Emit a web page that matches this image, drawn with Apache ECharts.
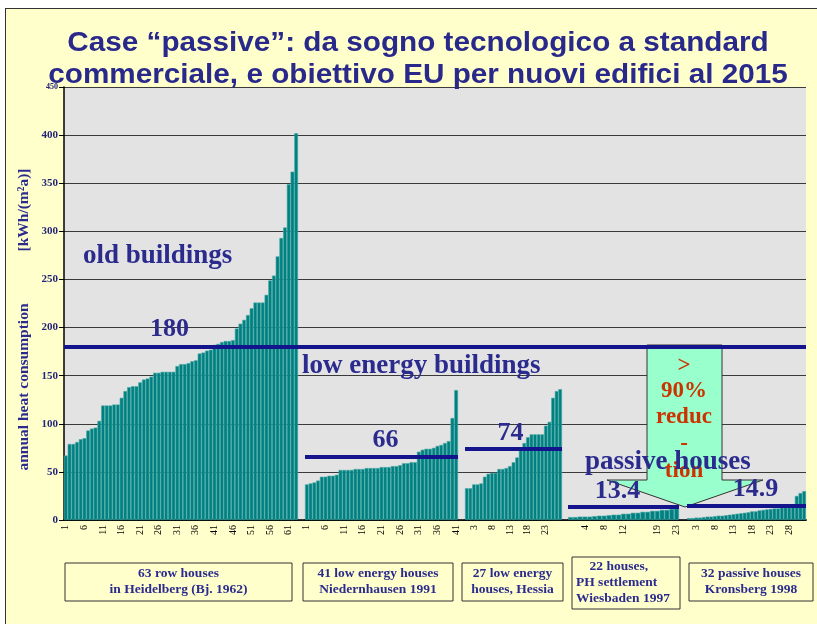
<!DOCTYPE html>
<html>
<head>
<meta charset="utf-8">
<script src="https://cdn.jsdelivr.net/npm/echarts@6.0.0/dist/echarts.min.js"></script>
<style>
  body { margin: 0; background: #fff; }
  #slide { position: absolute; left: 5px; top: 8px; width: 830px; height: 640px; background: #FFFFCC; border: 1px solid #333; }
  #main { position: absolute; left: 0; top: 0; width: 817px; height: 624px; }
</style>
</head>
<body>
<div id="slide"></div>
<div id="main"></div>
<script>
// heat consumption per house, kWh/(m2a), sorted ascending in each estate
const oldHouses = [67, 79, 79, 81, 84, 85, 93, 95, 96, 103, 119, 119, 119, 120, 120, 127, 134, 138, 139, 139,
  143, 146, 147, 149, 153, 153, 154, 154, 154, 154, 160, 162, 162, 163, 165, 166, 173, 174, 176, 177,
  182, 183, 185, 186, 186, 187, 199, 204, 208, 213, 220, 226, 226, 226, 234, 249, 254, 274, 293, 304,
  349, 362, 402];
const lowNiedernhausen = [37, 38, 39, 41, 45, 45, 46, 46, 47, 52, 52, 52, 52, 53, 53, 53, 54, 54, 54, 54,
  55, 55, 55, 56, 56, 57, 59, 59, 60, 60, 71, 73, 74, 74, 75, 77, 78, 80, 82, 106, 135];
const lowHessia = [33, 33, 37, 37, 38, 45, 48, 49, 49, 53, 53, 54, 56, 60, 65, 73, 80, 86, 89, 89,
  89, 89, 98, 102, 127, 134, 136];
const passiveWiesbaden = [3, 3, 3.5, 3.5, 3.5, 4, 4.5, 4.5, 5, 5.5, 5.5, 6.5, 6.5, 7.5, 7.5, 8.5, 8.5, 9.5, 9.5, 10.5,
  10.5, 11.5, 12];
const passiveKronsberg = [2, 2, 2.5, 2.5, 3, 3.5, 3.5, 4, 4.5, 4.5, 5, 5.5, 6, 6.5, 7, 7.5, 8, 9, 9, 10,
  10.5, 11, 11.5, 12, 12, 13, 13, 13, 13.5, 25, 28, 30];

// average lines
const oldAvg = 180;
const groupAvgs = [null, 66, 74, 13.4, 14.9];

// x tick labels shown under each estate
const ticks1 = ['1', '6', '11', '16', '21', '26', '31', '36', '41', '46', '51', '56', '61'];
const ticks2 = ['1', '6', '11', '16', '21', '26', '31', '36', '41'];
const ticks3 = ['3', '8', '13', '18', '23'];
const ticks4 = ['4', '8', '12', '19', '23'];
const ticks5 = ['3', '8', '13', '18', '23', '28'];

const titleLines = ['Case “passive”: da sogno tecnologico a standard', 'commerciale, e obiettivo EU per nuovi edifici al 2015'];
const boxLabels = [
  '63 row houses\nin Heidelberg (Bj. 1962)',
  '41 low energy houses\nNiedernhausen 1991',
  '27 low energy\nhouses, Hessia',
  '    22 houses,\nPH settlement\nWiesbaden 1997',
  '32 passive houses\nKronsberg 1998'
];

const groups = [oldHouses, lowNiedernhausen, lowHessia, passiveWiesbaden, passiveKronsberg];
const groupTicks = [ticks1, ticks2, ticks3, ticks4, ticks5];

const NAVY = '#2B2B8E';
const SERIF = 'Liberation Serif';
const TOP = 87, H = 433;
const gridLeft = [64, 305, 465, 568, 687];
const gridWidth = [234, 153, 97, 111, 119];
const avgLabelShift = [0, 4, -3, -6, 9];

const grids = [{ left: 64, top: TOP, width: 742, height: H, show: true, backgroundColor: '#E3E3E3', borderWidth: 0, outerBoundsMode: 'none' }];
const xAxes = [{ gridIndex: 0, type: 'value', min: 0, max: 1, axisLine: { show: true, onZero: false, lineStyle: { color: '#000', width: 1.5 } },
  axisTick: { show: false }, axisLabel: { show: false }, splitLine: { show: false } }];
const yAxes = [{
  gridIndex: 0, type: 'value', min: 0, max: 450, interval: 50,
  axisLine: { show: true, lineStyle: { color: '#000', width: 1.5 } },
  axisTick: { show: true, length: 5, lineStyle: { color: '#000' } },
  axisLabel: {
    margin: 6, fontFamily: SERIF, fontWeight: 'bold', fontSize: 11, color: '#23237A',
    formatter: v => v === 450 ? '{s|450}' : String(v),
    rich: { s: { fontFamily: SERIF, fontWeight: 'bold', fontSize: 8, color: '#23237A' } }
  },
  splitLine: { lineStyle: { color: '#3a3a3a', width: 1 } }
}];
const series = [{
  type: 'scatter', xAxisIndex: 0, yAxisIndex: 0, data: [[0, oldAvg]], symbolSize: 0, silent: true,
  markLine: { silent: true, symbol: 'none', label: { show: false },
    lineStyle: { color: '#14148C', width: 4, type: 'solid' }, data: [{ yAxis: oldAvg }] }
}];

groups.forEach((vals, i) => {
  const gi = i + 1;
  const cats = vals.map((_, k) => String(k + 1));
  const tk = groupTicks[i];
  grids.push({ left: gridLeft[i], top: TOP, width: gridWidth[i], height: H, outerBoundsMode: 'none' });
  xAxes.push({
    gridIndex: gi, type: 'category', data: cats,
    axisLine: { lineStyle: { color: '#000', width: 1.5 } },
    axisTick: { interval: 0, length: 5, lineStyle: { color: '#000' } },
    axisLabel: { interval: (idx, v) => tk.indexOf(v) >= 0, rotate: 90, margin: 5,
      fontFamily: SERIF, fontSize: 10, color: '#000' }
  });
  yAxes.push({ gridIndex: gi, type: 'value', min: 0, max: 450, show: false, splitLine: { show: false } });
  const s = {
    type: 'bar', xAxisIndex: gi, yAxisIndex: gi, data: vals, barCategoryGap: '0%',
    itemStyle: { color: '#008080', borderColor: '#45aaa6', borderWidth: 0.6 }
  };
  if (groupAvgs[i] != null) {
    s.markLine = {
      silent: true, symbol: 'none',
      lineStyle: { color: '#14148C', width: 4, type: 'solid' },
      label: { position: 'insideMiddleTop', distance: 3, offset: [avgLabelShift[i], 0], formatter: String(groupAvgs[i]),
        fontFamily: SERIF, fontWeight: 'bold', fontSize: 26, color: NAVY },
      data: [{ yAxis: groupAvgs[i] }]
    };
  }
  series.push(s);
});

const txt = (text, x, y, size, extra) => Object.assign({
  type: 'text', x: x, y: y, z: 10,
  style: Object.assign({ text: text, fontFamily: SERIF, fontWeight: 'bold', fontSize: size, fill: NAVY,
    align: 'left', verticalAlign: 'middle' }, extra || {})
});
const red = (text, y) => ({ type: 'text', z: 1, x: 684, y: y,
  style: { text: text, fontFamily: SERIF, fontWeight: 'bold', fontSize: 23, fill: '#CC3300', align: 'center', verticalAlign: 'middle' } });
const titleLine = (text, y) => ({ type: 'text', z: 10, x: 418, y: y, scaleX: 1.1,
  style: { text: text, fontFamily: 'Liberation Sans', fontWeight: 'bold', fontSize: 27, fill: '#29298C', align: 'center', verticalAlign: 'middle' } });

const graphic = [
  titleLine(titleLines[0], 44),
  titleLine(titleLines[1], 76),
  // reduction arrow
  { type: 'polygon', z: 1, shape: { points: [[647, 345], [722, 345], [722, 480], [763, 480], [685, 507], [607, 480], [647, 480]] },
    style: { fill: '#99FFCC', stroke: '#333', lineWidth: 1 } },
  red('>', 366), red('90%', 391), red('reduc', 417), red('-', 444), red('tion', 471),
  // annotations
  txt('old buildings', 83, 256, 27),
  txt(String(oldAvg), 150, 329, 26),
  txt('low energy buildings', 302, 366, 27),
  txt('passive houses', 585, 462, 27),
  // y axis name
  txt('annual heat consumption', 24, 387, 15.5, { align: 'center' }),
  txt('[kWh/(m²a)]', 24, 210, 15.5, { align: 'center' })
];
graphic[graphic.length - 2].rotation = Math.PI / 2;
graphic[graphic.length - 1].rotation = Math.PI / 2;

// estate label boxes
const boxes = [[65, 563, 227, 38], [303, 563, 150, 38], [462, 563, 101, 38], [572, 557, 108, 52], [689, 563, 124, 38]];
boxes.forEach((b, i) => {
  graphic.push({ type: 'rect', z: 1, shape: { x: b[0], y: b[1], width: b[2], height: b[3] },
    style: { fill: '#FFFFCC', stroke: '#333', lineWidth: 1 } });
  const left = i === 3;
  graphic.push({ type: 'text', z: 2, x: left ? b[0] + 4 : b[0] + b[2] / 2, y: b[1] + b[3] / 2,
    style: { text: boxLabels[i], fontFamily: SERIF, fontWeight: 'bold', fontSize: 13.5, lineHeight: 16,
      fill: NAVY, align: left ? 'left' : 'center', verticalAlign: 'middle' } });
});

const chart = echarts.init(document.getElementById('main'));
chart.setOption({
  animation: false,
  backgroundColor: 'transparent',
  grid: grids,
  xAxis: xAxes,
  yAxis: yAxes,
  series: series,
  graphic: graphic
});
</script>
</body>
</html>
